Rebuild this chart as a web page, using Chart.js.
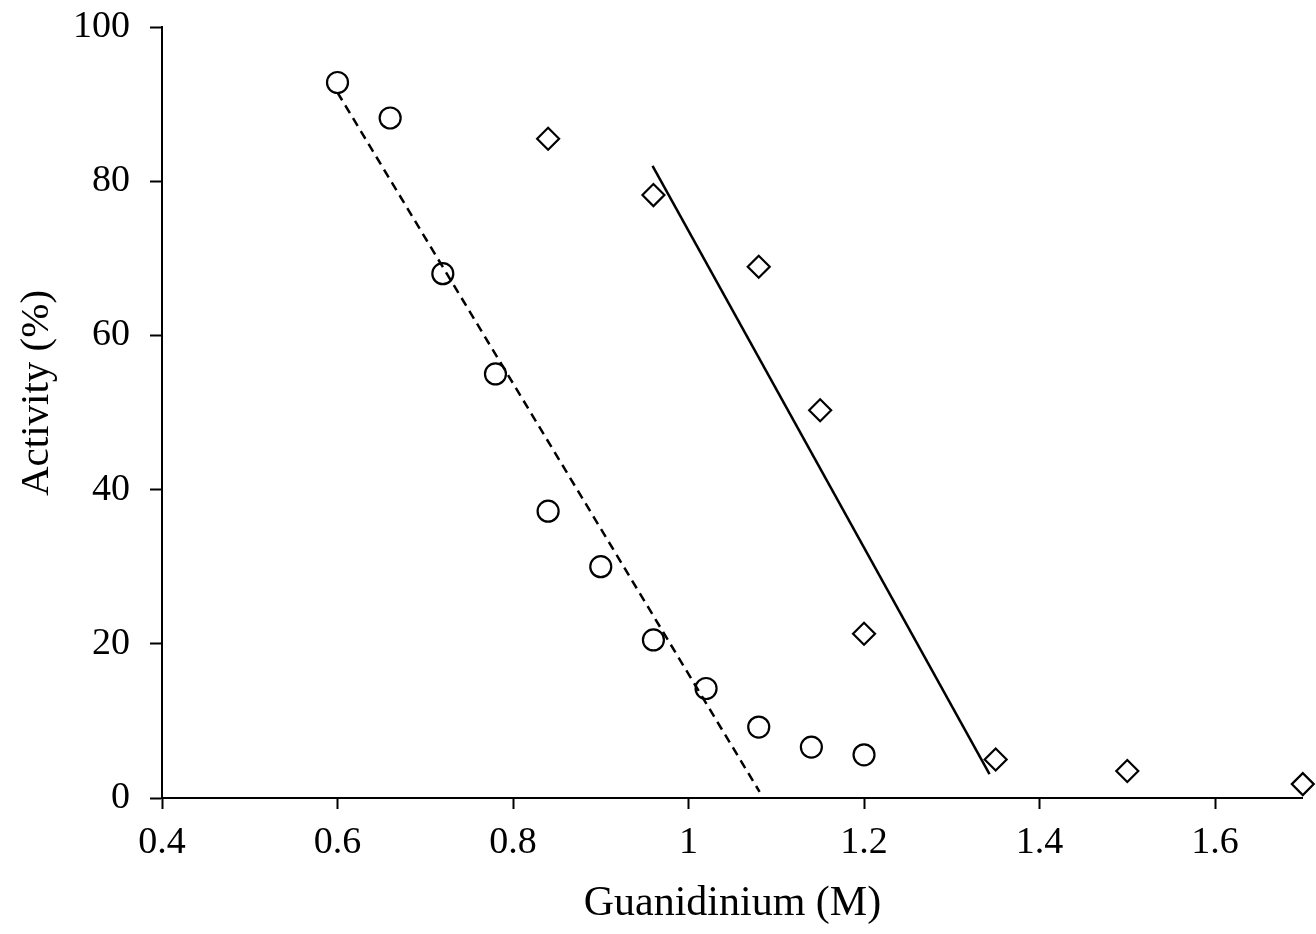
<!DOCTYPE html>
<html>
<head>
<meta charset="utf-8">
<script src="https://cdn.jsdelivr.net/npm/chart.js@4"></script>
<style>
  html, body { margin: 0; padding: 0; background: #fff; }
  #wrap { width: 1316px; height: 934px; }
</style>
</head>
<body>
<div id="wrap"><canvas id="myChart"></canvas></div>
<script>
// circles (open)
const circleX = [0.6, 0.66, 0.72, 0.78, 0.84, 0.9, 0.96, 1.02, 1.08, 1.14, 1.2];
const circleY = [92.8, 88.2, 68, 55, 37.2, 30, 20.5, 14.2, 9.2, 6.6, 5.6];

// diamonds (open)
const diamondX = [0.84, 0.96, 1.08, 1.15, 1.2, 1.35, 1.5, 1.7];
const diamondY = [85.5, 78.2, 68.9, 50.3, 21.3, 5, 3.5, 1.8];

// fitted lines
const dashedX = [0.6, 1.081];
const dashedY = [91.5, 0.8];
const solidX = [0.959, 1.343];
const solidY = [82.0, 3.1];

const xTicks = [0.4, 0.6, 0.8, 1, 1.2, 1.4, 1.6];
const yTicks = [0, 20, 40, 60, 80, 100];

const xTitle = "Guanidinium (M)";
const yTitle = "Activity (%)";

function toPoints(xs, ys) {
  return xs.map((x, i) => ({ x: x, y: ys[i] }));
}

const fontFamily = "'Liberation Serif', 'Times New Roman', serif";

// y title drawn by hand: in the original it sits a bit above the middle of the axis
const yTitlePlugin = {
  id: "yTitle",
  afterDraw(chart) {
    const ctx = chart.ctx;
    ctx.save();
    ctx.font = "41px " + fontFamily;
    ctx.fillStyle = "#000";
    ctx.textAlign = "center";
    ctx.textBaseline = "middle";
    ctx.translate(37, 393);
    ctx.rotate(-Math.PI / 2);
    ctx.fillText(yTitle, 0, 0);
    ctx.restore();
  },
};

new Chart(document.getElementById("myChart"), {
  type: "scatter",
  data: {
    datasets: [
      {
        data: toPoints(dashedX, dashedY),
        showLine: true,
        borderColor: "#000",
        borderWidth: 2.5,
        borderDash: [9, 6],
        pointRadius: 0,
        fill: false,
      },
      {
        data: toPoints(solidX, solidY),
        showLine: true,
        borderColor: "#000",
        borderWidth: 2.5,
        pointRadius: 0,
        fill: false,
      },
      {
        data: toPoints(circleX, circleY),
        pointStyle: "circle",
        pointRadius: 10.5,
        pointBorderWidth: 2.2,
        pointBorderColor: "#000",
        pointBackgroundColor: "#fff",
        clip: false,
      },
      {
        data: toPoints(diamondX, diamondY),
        pointStyle: "rectRot",
        pointRadius: 11,
        pointBorderWidth: 2.2,
        pointBorderColor: "#000",
        pointBackgroundColor: "#fff",
        clip: false,
      },
    ],
  },
  options: {
    responsive: true,
    maintainAspectRatio: false,
    animation: false,
    layout: { padding: { top: 27, right: 10, left: 0, bottom: 0 } },
    plugins: {
      legend: { display: false },
      tooltip: { enabled: false },
    },
    scales: {
      x: {
        type: "linear",
        min: 0.4,
        max: 1.7,
        afterBuildTicks: (scale) => {
          scale.ticks = xTicks.map((v) => ({ value: v }));
        },
        afterFit: (scale) => {
          scale.height = 136;
          scale.paddingLeft = 0;
          scale.paddingRight = 0;
        },
        grid: {
          drawOnChartArea: false,
          drawTicks: true,
          tickLength: 11,
          tickWidth: 2,
          tickColor: "#000",
        },
        border: { color: "#000", width: 2 },
        ticks: {
          color: "#000",
          padding: 11,
          maxRotation: 0,
          autoSkip: false,
          font: { family: fontFamily, size: 38 },
          callback: (v) => String(v),
        },
        title: {
          display: true,
          text: xTitle,
          color: "#000",
          font: { family: fontFamily, size: 42 },
          padding: { top: 0, bottom: 5 },
        },
      },
      y: {
        type: "linear",
        min: 0,
        max: 100,
        afterBuildTicks: (scale) => {
          scale.ticks = yTicks.map((v) => ({ value: v }));
        },
        afterFit: (scale) => {
          scale.width = 162;
          scale.paddingTop = 0;
          scale.paddingBottom = 0;
        },
        grid: {
          drawOnChartArea: false,
          drawTicks: true,
          tickLength: 12,
          tickWidth: 2,
          tickColor: "#000",
        },
        border: { color: "#000", width: 2 },
        ticks: {
          color: "#000",
          padding: 20,
          autoSkip: false,
          font: { family: fontFamily, size: 38 },
        },
      },
    },
  },
  plugins: [yTitlePlugin],
});
</script>
</body>
</html>
